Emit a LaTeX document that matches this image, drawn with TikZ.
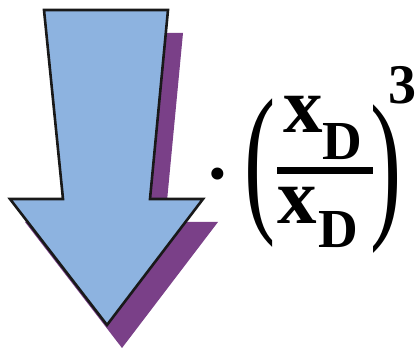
\documentclass[tikz,border=0pt]{standalone}
\usepackage{fontspec}
\setmainfont{Liberation Serif}
\usepackage{graphicx}
\usetikzlibrary{positioning}
\definecolor{arrowblue}{RGB}{141,179,224}
\definecolor{shadowpurple}{RGB}{122,64,136}

\begin{document}
\begin{tikzpicture}[x=1pt, y=-1pt,
  every node/.style={inner sep=0pt, outer sep=0pt},
  varx/.style={font=\bfseries\fontsize{79}{79}\selectfont, anchor=base west},
  subD/.style={font=\bfseries\fontsize{55}{55}\selectfont, anchor=base west},
  paren/.style={font=\fontsize{164}{164}\selectfont, anchor=base west}]
\useasboundingbox (0,0) rectangle (418,352);
% Shadow
\fill[shadowpurple, shift={(15,23)}]
  (44,10) -- (168,10) -- (150,199) -- (203,199) -- (107,325)
  -- (10,199) -- (63,199) -- cycle;
% Arrow
\filldraw[fill=arrowblue, draw=black!90, line width=2.6pt, line join=miter]
  (44,10) -- (168,10) -- (150,199) -- (203,199) -- (107,325)
  -- (10,199) -- (63,199) -- cycle;
% Dot and brackets
\node[font=\bfseries\fontsize{74}{74}\selectfont, anchor=base] (dot) at (218,199)
  {\textperiodcentered};
\node[paren] (lpar) at (244.5,213) {\scalebox{0.57}[1]{(}};
\node[paren] (rpar) at (370,219) {\scalebox{0.57}[1]{)}};
% Fraction
\node[varx] (numx) at (283,133) {x};
\node[subD] (numD) at (322,160) {D};
\draw[line width=7pt] (277,171) -- (373,171);
\node[varx] (denx) at (277,224) {x};
\node[subD] (denD) at (318,248) {D};
% Power
\node[font=\bfseries\fontsize{56}{56}\selectfont, anchor=base west] (pow) at (388,104) {3};
\end{tikzpicture}
\end{document}
